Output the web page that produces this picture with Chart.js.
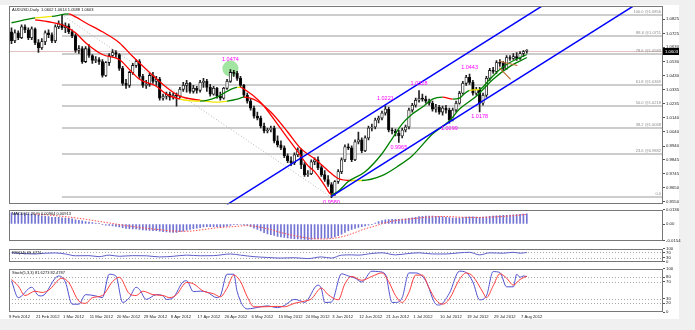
<!DOCTYPE html>
<html>
<head>
<meta charset="utf-8">
<title>AUDUSD Daily</title>
<script src="https://cdn.jsdelivr.net/npm/chart.js@4.4.1/dist/chart.umd.min.js"></script>
<style>
  html, body { margin: 0; padding: 0; background: #f0f0f0; }
  body { position: relative; width: 695px; height: 330px; overflow: hidden; }
  #sheet { position: absolute; left: 0; top: 5px; width: 679px; height: 314px; background: #fff; }
  canvas { position: absolute; left: 0; }
</style>
</head>
<body>
<div id="sheet"></div>
<canvas id="cMain" width="695" height="208" style="top:0px"></canvas>
<canvas id="cMacd" width="695" height="38" style="top:206px"></canvas>
<canvas id="cRsi" width="695" height="20" style="top:245px"></canvas>
<canvas id="cStoch" width="695" height="56" style="top:265px"></canvas>
<script>
// daily bars, 9 Feb 2012 .. 9 Aug 2012 (index = bar number)
var opens = [1.0738,1.0676,1.0731,1.0697,1.0773,1.0752,1.0697,1.0759,1.0662,1.0627,
  1.0669,1.0731,1.0717,1.0676,1.0773,1.0794,1.0766,1.0780,1.0738,1.0711,
  1.0607,1.0620,1.0530,1.0620,1.0572,1.0537,1.0544,1.0530,1.0433,1.0523,
  1.0572,1.0593,1.0579,1.0482,1.0378,1.0364,1.0454,1.0503,1.0530,1.0426,
  1.0364,1.0371,1.0433,1.0392,1.0406,1.0274,1.0288,1.0302,1.0281,1.0295,
  1.0288,1.0336,1.0364,1.0378,1.0322,1.0343,1.0329,1.0385,1.0392,1.0350,
  1.0302,1.0343,1.0288,1.0274,1.0343,1.0392,1.0454,1.0447,1.0413,1.0364,
  1.0295,1.0253,1.0205,1.0149,1.0135,1.0080,1.0045,1.0052,1.0066,0.9976,
  0.9948,0.9927,0.9872,0.9837,0.9824,0.9879,0.9914,0.9810,0.9740,0.9747,
  0.9830,0.9844,0.9789,0.9740,0.9706,0.9671,0.9609,0.9692,0.9761,0.9844,
  0.9934,0.9927,0.9844,0.9969,0.9983,0.9907,0.9997,1.0066,1.0073,1.0122,
  1.0135,1.0170,1.0198,1.0052,1.0045,1.0031,1.0011,1.0052,1.0073,1.0191,
  1.0225,1.0260,1.0274,1.0267,1.0253,1.0239,1.0198,1.0212,1.0177,1.0205,
  1.0191,1.0122,1.0191,1.0239,1.0309,1.0378,1.0420,1.0385,1.0309,1.0336,
  1.0239,1.0295,1.0413,1.0468,1.0461,1.0523,1.0517,1.0482,1.0558,1.0551,
  1.0565,1.0551,1.0586,1.0602];
var highs = [1.0766,1.0752,1.0745,1.0787,1.0787,1.0766,1.0773,1.0766,1.0683,1.0690,
  1.0745,1.0752,1.0731,1.0787,1.0815,1.0856,1.0801,1.0794,1.0752,1.0724,
  1.0641,1.0634,1.0634,1.0648,1.0579,1.0565,1.0558,1.0544,1.0530,1.0586,
  1.0614,1.0607,1.0586,1.0496,1.0406,1.0461,1.0517,1.0544,1.0544,1.0440,
  1.0399,1.0447,1.0454,1.0426,1.0420,1.0302,1.0316,1.0316,1.0309,1.0309,
  1.0350,1.0385,1.0399,1.0385,1.0364,1.0357,1.0399,1.0413,1.0406,1.0371,
  1.0357,1.0350,1.0316,1.0350,1.0406,1.0474,1.0468,1.0461,1.0426,1.0371,
  1.0309,1.0267,1.0219,1.0177,1.0149,1.0101,1.0066,1.0080,1.0080,1.0011,
  0.9976,0.9941,0.9886,0.9865,0.9893,0.9927,0.9921,0.9824,0.9768,0.9844,
  0.9858,0.9865,0.9803,0.9768,0.9733,0.9685,0.9699,0.9775,0.9858,0.9948,
  0.9955,0.9941,0.9983,1.0038,0.9997,1.0011,1.0080,1.0094,1.0135,1.0149,
  1.0184,1.0221,1.0212,1.0066,1.0059,1.0052,1.0066,1.0087,1.0205,1.0239,
  1.0274,1.0328,1.0302,1.0288,1.0267,1.0253,1.0232,1.0225,1.0219,1.0225,
  1.0205,1.0205,1.0253,1.0322,1.0392,1.0433,1.0443,1.0399,1.0350,1.0350,
  1.0309,1.0426,1.0482,1.0489,1.0537,1.0544,1.0530,1.0572,1.0572,1.0586,
  1.0593,1.0600,1.0607,1.0614];
var lows = [1.0655,1.0662,1.0683,1.0690,1.0731,1.0683,1.0683,1.0648,1.0593,1.0614,
  1.0648,1.0697,1.0662,1.0662,1.0759,1.0752,1.0731,1.0724,1.0697,1.0593,
  1.0586,1.0517,1.0523,1.0558,1.0517,1.0523,1.0510,1.0420,1.0426,1.0503,
  1.0565,1.0558,1.0468,1.0364,1.0343,1.0350,1.0440,1.0489,1.0413,1.0350,
  1.0343,1.0357,1.0378,1.0364,1.0260,1.0260,1.0267,1.0260,1.0267,1.0219,
  1.0274,1.0322,1.0316,1.0309,1.0309,1.0309,1.0316,1.0350,1.0322,1.0288,
  1.0295,1.0274,1.0260,1.0267,1.0336,1.0385,1.0426,1.0399,1.0350,1.0281,
  1.0239,1.0191,1.0135,1.0122,1.0066,1.0031,1.0031,1.0038,0.9962,0.9934,
  0.9914,0.9858,0.9824,0.9803,0.9810,0.9865,0.9782,0.9727,0.9727,0.9740,
  0.9810,0.9775,0.9727,0.9692,0.9657,0.9580,0.9595,0.9678,0.9747,0.9830,
  0.9914,0.9830,0.9837,0.9955,0.9893,0.9900,0.9983,1.0045,1.0059,1.0101,
  1.0122,1.0156,1.0038,1.0024,1.0011,0.9965,0.9997,1.0038,1.0059,1.0177,
  1.0212,1.0246,1.0253,1.0239,1.0225,1.0184,1.0177,1.0163,1.0156,1.0170,
  1.0099,1.0115,1.0177,1.0232,1.0302,1.0364,1.0371,1.0295,1.0295,1.0178,
  1.0225,1.0281,1.0399,1.0447,1.0447,1.0496,1.0468,1.0475,1.0537,1.0544,
  1.0537,1.0544,1.0565,1.0588];
var closes = [1.0676,1.0731,1.0697,1.0773,1.0752,1.0697,1.0759,1.0662,1.0627,1.0669,
  1.0731,1.0717,1.0676,1.0773,1.0794,1.0766,1.0780,1.0738,1.0711,1.0607,
  1.0620,1.0530,1.0620,1.0572,1.0537,1.0544,1.0530,1.0433,1.0523,1.0572,
  1.0593,1.0579,1.0482,1.0378,1.0364,1.0454,1.0503,1.0530,1.0426,1.0364,
  1.0371,1.0433,1.0392,1.0406,1.0274,1.0288,1.0302,1.0281,1.0295,1.0288,
  1.0336,1.0364,1.0378,1.0322,1.0343,1.0329,1.0385,1.0392,1.0350,1.0302,
  1.0343,1.0288,1.0274,1.0343,1.0392,1.0454,1.0447,1.0413,1.0364,1.0295,
  1.0253,1.0205,1.0149,1.0135,1.0080,1.0045,1.0052,1.0066,0.9976,0.9948,
  0.9927,0.9872,0.9837,0.9824,0.9879,0.9914,0.9810,0.9740,0.9747,0.9830,
  0.9844,0.9789,0.9740,0.9706,0.9671,0.9609,0.9692,0.9761,0.9844,0.9934,
  0.9927,0.9844,0.9969,0.9983,0.9907,0.9997,1.0066,1.0073,1.0122,1.0135,
  1.0170,1.0198,1.0052,1.0045,1.0031,1.0011,1.0052,1.0073,1.0191,1.0225,
  1.0260,1.0274,1.0267,1.0253,1.0239,1.0198,1.0212,1.0177,1.0205,1.0191,
  1.0122,1.0191,1.0239,1.0309,1.0378,1.0420,1.0385,1.0309,1.0336,1.0239,
  1.0295,1.0413,1.0468,1.0461,1.0523,1.0517,1.0482,1.0558,1.0551,1.0565,
  1.0551,1.0586,1.0600,1.0603];

// the two coloured averages, read at a few bars
var slowBars = [0,7,12,17,19,22,27,32,36,41,46,50,56,61,64,67,69,73,77,82,86,90,94,97,101,104,110,115,119,125,130,133,138,143,148,153];
var slowVals = [1.0801,1.0835,1.0845,1.0863,1.0842,1.0801,1.0738,1.0662,1.0565,1.0454,1.0350,1.0288,1.0260,1.0246,1.0253,1.0267,1.0281,1.0253,1.0177,1.0038,0.9920,0.9851,0.9768,0.9713,0.9699,0.9699,0.9733,0.9803,0.9872,1.0024,1.0115,1.0198,1.0288,1.0406,1.0496,1.0558];
var fastBars = [7,11,15,19,22,27,32,35,38,43,46,50,56,61,64,67,68,70,73,75,80,85,88,90,93,95,97,100,105,110,113,116,119,122,125,128,131,133,134,136,139,142,145,148,151,153];
var fastVals = [1.0821,1.0808,1.0787,1.0731,1.0662,1.0579,1.0544,1.0475,1.0406,1.0357,1.0302,1.0267,1.0253,1.0281,1.0322,1.0350,1.0350,1.0322,1.0267,1.0218,1.0059,0.9900,0.9803,0.9761,0.9664,0.9602,0.9623,0.9692,0.9761,0.9886,0.9990,1.0094,1.0163,1.0212,1.0267,1.0281,1.0267,1.0274,1.0295,1.0329,1.0336,1.0406,1.0475,1.0523,1.0558,1.0579];

// drawn objects: channel, small brown lines, fibonacci
var upperBars = [64, 162], upperVals = [0.9531, 1.0984];
var lowerBars = [95, 190], lowerVals = [0.9589, 1.0997];
var brownA = { bars: [144.8, 150.2], vals: [1.0532, 1.0503] };
var brownB = { bars: [144.8, 148.2], vals: [1.0487, 1.0406] };
var fibBars = [15, 95];
var fibLevels = [0, 23.6, 38.2, 50, 61.8, 78.6, 88.6, 100];
var fibPrices = [0.9581, 0.9882, 1.0068, 1.0218, 1.0369, 1.0583, 1.0711, 1.0856];

// swing labels
var swingBars = [65, 95, 111, 115, 121, 130, 136, 139];
var swingVals = [1.0474, 0.9580, 1.0221, 0.9965, 1.0328, 1.0099, 1.0443, 1.0178];
var swingSide = ['high', 'low', 'high', 'low', 'high', 'low', 'high', 'low'];
var circledBar = 65;

var priceTicks = [1.0825, 1.0725, 1.0630, 1.0530, 1.0430, 1.0335, 1.0235, 1.0140, 1.0040, 0.9940, 0.9845, 0.9745, 0.9650, 0.9550];
var dateBars = [0, 8, 16, 24, 32, 40, 48, 56, 64, 72, 80, 88, 96, 104, 112, 120, 128, 136, 144, 152];
var dateLabels = ['9 Feb 2012', '21 Feb 2012', '1 Mar 2012', '11 Mar 2012', '20 Mar 2012', '29 Mar 2012', '8 Apr 2012', '17 Apr 2012', '26 Apr 2012', '6 May 2012', '15 May 2012', '24 May 2012', '3 Jun 2012', '12 Jun 2012', '21 Jun 2012', '1 Jul 2012', '10 Jul 2012', '19 Jul 2012', '29 Jul 2012', '7 Aug 2012'];

// MACD(12,26,9): main as histogram, signal read at a few bars
var macdMain = [0.0106,0.0106,0.0105,0.0100,0.0100,0.0095,0.0095,0.0090,0.0083,0.0078,
  0.0072,0.0070,0.0064,0.0064,0.0064,0.0059,0.0057,0.0053,0.0048,0.0040,
  0.0035,0.0030,0.0024,0.0019,0.0014,0.0008,0.0003,-0.0005,-0.0010,-0.0014,
  -0.0018,-0.0022,-0.0027,-0.0033,-0.0040,-0.0043,-0.0045,-0.0046,-0.0050,-0.0055,
  -0.0058,-0.0060,-0.0062,-0.0063,-0.0068,-0.0072,-0.0075,-0.0077,-0.0078,-0.0078,
  -0.0072,-0.0066,-0.0058,-0.0050,-0.0044,-0.0038,-0.0033,-0.0028,-0.0025,-0.0024,
  -0.0024,-0.0025,-0.0026,-0.0024,-0.0019,-0.0012,-0.0006,-0.0003,-0.0004,-0.0008,
  -0.0014,-0.0025,-0.0038,-0.0050,-0.0065,-0.0080,-0.0092,-0.0100,-0.0108,-0.0116,
  -0.0121,-0.0126,-0.0131,-0.0135,-0.0138,-0.0140,-0.0143,-0.0145,-0.0146,-0.0144,
  -0.0141,-0.0138,-0.0135,-0.0133,-0.0132,-0.0130,-0.0122,-0.0110,-0.0095,-0.0078,
  -0.0063,-0.0050,-0.0040,-0.0032,-0.0025,-0.0018,-0.0010,-0.0003,0.0010,0.0022,
  0.0032,0.0040,0.0043,0.0044,0.0045,0.0045,0.0047,0.0050,0.0054,0.0058,
  0.0064,0.0070,0.0073,0.0074,0.0075,0.0074,0.0072,0.0070,0.0067,0.0064,
  0.0060,0.0057,0.0057,0.0059,0.0062,0.0065,0.0067,0.0067,0.0066,0.0064,
  0.0065,0.0068,0.0072,0.0075,0.0078,0.0080,0.0081,0.0083,0.0085,0.0087,
  0.0089,0.0091,0.0093,0.0096];
var macdSigBars = [7,12,17,22,26,32,38,43,48,52,56,61,66,70,76,81,86,89,92,96,99,102,105,108,111,114,119,125,129,133,137,141,147,153];
var macdSigVals = [0.0095,0.0082,0.0066,0.0045,0.0025,-0.0005,-0.0032,-0.0050,-0.0066,-0.0068,-0.0056,-0.0035,-0.0024,-0.0015,-0.0045,-0.0088,-0.0122,-0.0136,-0.0141,-0.0132,-0.0112,-0.0080,-0.0045,-0.0018,0.0012,0.0033,0.0050,0.0068,0.0071,0.0065,0.0062,0.0064,0.0074,0.0091];

// RSI(14)
var rsiBars = [0,3,7,10,13,16,19,23,26,29,32,36,40,44,48,52,56,60,65,68,72,76,80,84,88,92,95,98,101,103,107,110,114,118,121,125,129,133,136,139,142,146,149,151,153];
var rsiVals = [67,62,58,64,66,58,44,45,37,49,40,45,44,35,40,49,44,45,58,49,37,31,26,29,22,35,26,49,51,49,62,67,51,62,67,58,58,67,71,51,67,64,71,64,69.5];

// Stoch(5,3,3)
var stochBars = [0,2,6,8,9,14,16,18,20,22,25,27,29,31,33,35,37,38,40,43,45,46,48,51,52,54,56,58,61,62,64,66,67,70,72,76,79,81,84,86,87,91,92,93,95,98,100,102,104,107,109,111,113,114,116,118,120,123,126,127,130,133,135,137,139,141,143,145,147,149,150,151,152,153];
var stochMain = [72,33,57,38,37,83,69,18,18,40,37,33,87,83,22,33,57,52,29,40,37,29,33,70,72,47,48,46,33,37,87,87,47,7,9,14,10,15,29,25,22,62,54,22,23,88,83,78,69,94,93,87,22,22,33,90,90,72,18,16,43,94,91,69,28,37,93,91,58,58,87,80,83,81.6];
var sigBars = [0,2,4,7,9,11,15,17,20,22,24,27,30,32,35,37,39,42,45,47,49,52,54,57,60,62,64,66,68,70,72,75,79,81,84,87,89,92,94,97,99,101,104,107,110,112,114,116,118,120,122,124,126,128,130,133,135,137,140,141,143,145,147,149,151,153];
var sigVals = [75,60,38,48,45,50,78,68,25,20,33,38,70,80,42,38,48,40,38,33,40,68,65,48,42,35,55,85,70,35,12,12,13,12,20,25,30,55,40,28,65,82,73,82,90,70,38,22,45,85,85,55,28,18,30,75,90,82,45,33,60,88,78,62,75,82.5];

// screen layout: bar 0 at 11.5px, one bar every 3.368px, plot from 9px to 663px
var X_MIN = -0.742, X_MAX = 193.44, DATE_SHIFT = -0.742;
var FONT = '"Liberation Sans", Arial, sans-serif';
Chart.defaults.font.family = FONT;

function pts(xs, ys) {
  return xs.map(function (b, k) { return { x: b, y: ys[k] }; });
}

function slopeColor(c) {
  var p0 = c.p0.parsed, p1 = c.p1.parsed;
  var s = (p1.y - p0.y) / (p1.x - p0.x);
  if (s > 0.0003) return '#008000';
  if (s < -0.0003) return '#ff0000';
  return '#f2e600';
}

function hiddenX() {
  return { type: 'linear', display: false, min: X_MIN, max: X_MAX, offset: false };
}

function rightAxis(min, max, ticks, fmt) {
  return {
    position: 'right', min: min, max: max,
    afterBuildTicks: function (s) { s.ticks = ticks.map(function (v) { return { value: v }; }); },
    afterFit: function (s) { s.width = 32; },
    grid: { drawOnChartArea: false, drawTicks: true, tickLength: 2, color: '#555' },
    border: { display: false },
    ticks: { padding: 1, color: '#222', autoSkip: false, font: { size: 4.3 }, callback: fmt }
  };
}

var frame = {
  id: 'frame',
  afterDraw: function (chart) {
    var ctx = chart.ctx, a = chart.chartArea;
    ctx.save();
    ctx.strokeStyle = '#777';
    ctx.lineWidth = 1;
    ctx.strokeRect(Math.round(a.left) + 0.5, Math.round(a.top) + 0.5,
      Math.round(a.right - a.left) - 1, Math.round(a.bottom - a.top) - 1);
    ctx.restore();
  }
};

var panelTitle = {
  id: 'panelTitle',
  afterDraw: function (chart, args, opts) {
    if (!opts.text) return;
    var ctx = chart.ctx, a = chart.chartArea;
    ctx.save();
    ctx.font = '4px ' + FONT;
    ctx.fillStyle = '#111';
    ctx.textAlign = 'left';
    ctx.textBaseline = 'top';
    ctx.fillText(opts.text, a.left + 3, a.top + 2);
    ctx.restore();
  }
};

var levelLines = {
  id: 'levelLines',
  beforeDatasetsDraw: function (chart, args, opts) {
    if (!opts.values) return;
    var ctx = chart.ctx, a = chart.chartArea, y = chart.scales.y;
    ctx.save();
    ctx.strokeStyle = '#a8a8a8';
    ctx.lineWidth = 1;
    ctx.setLineDash([1, 2]);
    opts.values.forEach(function (v) {
      var py = Math.round(y.getPixelForValue(v)) + 0.5;
      ctx.beginPath(); ctx.moveTo(a.left, py); ctx.lineTo(a.right, py); ctx.stroke();
    });
    ctx.restore();
  }
};

// fibonacci, bid line, circle behind the bars; swing labels and price box on top
var mainDecor = {
  id: 'mainDecor',
  beforeDatasetsDraw: function (chart) {
    var ctx = chart.ctx, a = chart.chartArea, x = chart.scales.x, y = chart.scales.y;
    ctx.save();
    ctx.beginPath(); ctx.rect(a.left, a.top, a.right - a.left, a.bottom - a.top); ctx.clip();

    var by = Math.round(y.getPixelForValue(closes[closes.length - 1])) + 0.5;
    ctx.strokeStyle = '#e2c2c2'; ctx.lineWidth = 1;
    ctx.beginPath(); ctx.moveTo(a.left, by); ctx.lineTo(a.right, by); ctx.stroke();

    var fx = x.getPixelForValue(fibBars[0]);
    ctx.font = '4px ' + FONT; ctx.textAlign = 'right'; ctx.textBaseline = 'bottom';
    fibLevels.forEach(function (lv, k) {
      var py = Math.round(y.getPixelForValue(fibPrices[k]));
      ctx.fillStyle = '#cdcdcd';
      ctx.fillRect(fx, py - 1, a.right - fx, 2);
      ctx.fillStyle = '#8a8a8a';
      ctx.fillText(lv === 0 ? '0.0' : lv.toFixed(1) + ' @' + fibPrices[k].toFixed(4), a.right - 2, py - 1);
    });

    ctx.setLineDash([1, 2]); ctx.strokeStyle = '#b5b5b5';
    ctx.beginPath();
    ctx.moveTo(x.getPixelForValue(fibBars[0]), y.getPixelForValue(fibPrices[fibPrices.length - 1]));
    ctx.lineTo(x.getPixelForValue(fibBars[1]), y.getPixelForValue(fibPrices[0]));
    ctx.stroke();
    ctx.setLineDash([]);

    var ci = swingBars.indexOf(circledBar);
    ctx.fillStyle = 'rgba(110, 215, 110, 0.65)';
    ctx.beginPath();
    ctx.arc(x.getPixelForValue(circledBar), y.getPixelForValue(swingVals[ci]) - 1, 8, 0, Math.PI * 2);
    ctx.fill();
    ctx.restore();
  },
  afterDatasetsDraw: function (chart) {
    var ctx = chart.ctx, a = chart.chartArea, x = chart.scales.x, y = chart.scales.y;
    ctx.save();
    ctx.font = '5.5px ' + FONT; ctx.fillStyle = '#ff00ff';
    ctx.textAlign = 'center'; ctx.textBaseline = 'middle';
    swingBars.forEach(function (b, k) {
      var py = y.getPixelForValue(swingVals[k]);
      var off = swingSide[k] === 'high' ? (b === circledBar ? -10 : -7) : 5;
      ctx.fillText(swingVals[k].toFixed(4), x.getPixelForValue(b), py + off);
    });

    var last = closes[closes.length - 1];
    var ly = Math.round(y.getPixelForValue(last));
    ctx.fillStyle = '#000';
    ctx.fillRect(a.right, ly - 3, 16, 7);
    ctx.fillStyle = '#fff'; ctx.font = '4.3px ' + FONT;
    ctx.textAlign = 'left'; ctx.textBaseline = 'middle';
    ctx.fillText(last.toFixed(4), a.right + 2, ly + 0.5);
    ctx.restore();
  }
};

var wicks = lows.map(function (lo, i) { return { x: i, y: [lo, highs[i]] }; });
var bodies = opens.map(function (o, i) { return { x: i, y: [o, closes[i]] }; });
var bodyColors = opens.map(function (o, i) { return closes[i] >= o ? '#ffffff' : '#000000'; });

new Chart(document.getElementById('cMain'), {
  type: 'bar',
  data: {
    datasets: [
      { type: 'bar', data: wicks, backgroundColor: '#222', barThickness: 1, grouped: false, order: 7 },
      { type: 'bar', data: bodies, backgroundColor: bodyColors, borderColor: '#111', borderWidth: 0.8,
        borderSkipped: false, barThickness: 2.6, minBarLength: 1, grouped: false, order: 6 },
      { type: 'line', data: pts(slowBars, slowVals), borderColor: '#ff0000', borderWidth: 1.3, pointRadius: 0,
        cubicInterpolationMode: 'monotone', segment: { borderColor: slopeColor }, order: 5 },
      { type: 'line', data: pts(fastBars, fastVals), borderColor: '#ff0000', borderWidth: 1.3, pointRadius: 0,
        cubicInterpolationMode: 'monotone', segment: { borderColor: slopeColor }, order: 4 },
      { type: 'line', data: pts(upperBars, upperVals), borderColor: '#0000ff', borderWidth: 1.5, pointRadius: 0, order: 3 },
      { type: 'line', data: pts(lowerBars, lowerVals), borderColor: '#0000ff', borderWidth: 1.5, pointRadius: 0, order: 2 },
      { type: 'line', data: pts(brownA.bars, brownA.vals), borderColor: '#b5652a', borderWidth: 1.1, pointRadius: 0, order: 1 },
      { type: 'line', data: pts(brownB.bars, brownB.vals), borderColor: '#b5652a', borderWidth: 1.1, pointRadius: 0, order: 1 }
    ]
  },
  options: {
    responsive: false, animation: false, events: [],
    layout: { padding: { left: 9, top: 6, right: 0, bottom: 2 } },
    plugins: {
      legend: { display: false }, tooltip: { enabled: false },
      panelTitle: { text: 'AUDUSD,Daily  1.0602 1.0614 1.0588 1.0603' }
    },
    scales: {
      x: hiddenX(),
      y: rightAxis(0.9532, 1.0918, priceTicks, function (v) { return v.toFixed(4); })
    }
  },
  plugins: [mainDecor, frame, panelTitle]
});

new Chart(document.getElementById('cMacd'), {
  type: 'bar',
  data: {
    datasets: [
      { type: 'line', data: pts(macdSigBars, macdSigVals), borderColor: '#ff5050', borderWidth: 1,
        borderDash: [1.5, 1.5], pointRadius: 0, cubicInterpolationMode: 'monotone', order: 0 },
      { type: 'bar', data: macdMain.map(function (v, i) { return { x: i, y: v }; }),
        backgroundColor: '#7373d4', barThickness: 1, order: 1 }
    ]
  },
  options: {
    responsive: false, animation: false, events: [],
    layout: { padding: { left: 9, top: 1, right: 0, bottom: 1 } },
    plugins: {
      legend: { display: false }, tooltip: { enabled: false },
      panelTitle: { text: 'MACD(12,26,9) 0.00964 0.00913' }
    },
    scales: {
      x: hiddenX(),
      y: rightAxis(-0.0154, 0.0136, [-0.0154, 0, 0.0136], function (v) { return v === 0 ? '0.00' : v.toFixed(4); })
    }
  },
  plugins: [frame, panelTitle]
});

new Chart(document.getElementById('cRsi'), {
  type: 'line',
  data: {
    datasets: [
      { data: pts(rsiBars, rsiVals), borderColor: '#5c5cc8', borderWidth: 1, pointRadius: 0, cubicInterpolationMode: 'monotone' }
    ]
  },
  options: {
    responsive: false, animation: false, events: [],
    layout: { padding: { left: 9, top: 1, right: 0, bottom: 1 } },
    plugins: {
      legend: { display: false }, tooltip: { enabled: false },
      panelTitle: { text: 'RSI(14) 69.4771' },
      levelLines: { values: [30, 70] }
    },
    scales: {
      x: hiddenX(),
      y: rightAxis(0, 100, [0, 30, 70, 100], function (v) { return String(v); })
    }
  },
  plugins: [levelLines, frame, panelTitle]
});

new Chart(document.getElementById('cStoch'), {
  type: 'line',
  data: {
    datasets: [
      { data: pts(sigBars, sigVals), borderColor: '#ff3c3c', borderWidth: 1, pointRadius: 0, cubicInterpolationMode: 'monotone' },
      { data: pts(stochBars, stochMain), borderColor: '#5050d0', borderWidth: 1, pointRadius: 0, cubicInterpolationMode: 'monotone' }
    ]
  },
  options: {
    responsive: false, animation: false, events: [],
    layout: { padding: { left: 9, top: 1, right: 0, bottom: 1 } },
    plugins: {
      legend: { display: false }, tooltip: { enabled: false },
      panelTitle: { text: 'Stoch(5,3,3) 81.6273 82.4787' },
      levelLines: { values: [20, 30, 70, 80] }
    },
    scales: {
      x: {
        type: 'linear', min: X_MIN, max: X_MAX, offset: false, position: 'bottom',
        afterBuildTicks: function (s) { s.ticks = dateBars.map(function (b) { return { value: b + DATE_SHIFT }; }); },
        afterFit: function (s) { s.height = 8; },
        grid: { display: false, drawTicks: false },
        border: { display: false },
        ticks: { align: 'start', maxRotation: 0, autoSkip: false, padding: 2, color: '#222',
          font: { size: 4.2 }, callback: function (v, i) { return dateLabels[i]; } }
      },
      y: rightAxis(0, 100, [0, 20, 30, 70, 80, 100], function (v) { return String(v); })
    }
  },
  plugins: [levelLines, frame, panelTitle]
});
</script>
</body>
</html>
